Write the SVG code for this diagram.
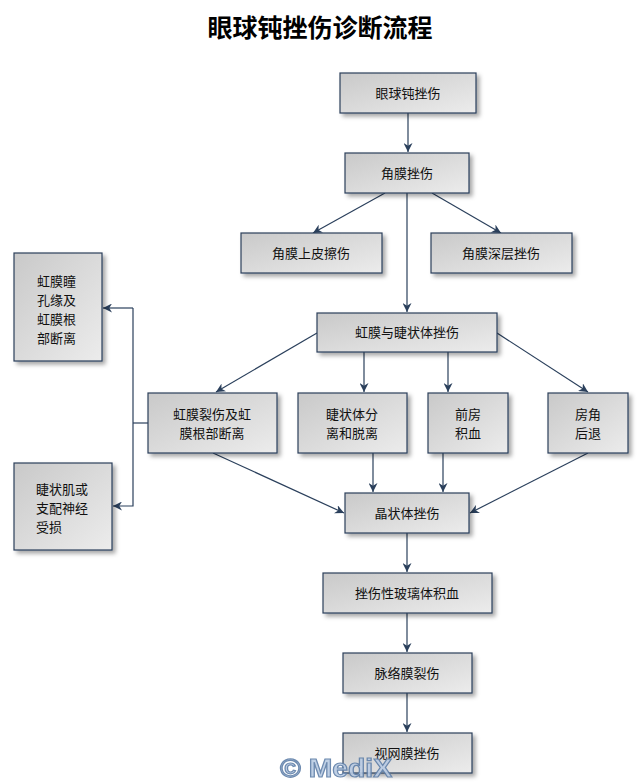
<svg xmlns="http://www.w3.org/2000/svg" width="642" height="782" viewBox="0 0 642 782">
<defs>
<linearGradient id="g" x1="0" y1="0" x2="1" y2="1">
<stop offset="0" stop-color="#c9c9c9"/>
<stop offset="1" stop-color="#ececec"/>
</linearGradient>
<filter id="sh" x="-10%" y="-10%" width="130%" height="140%">
<feDropShadow dx="3" dy="3" stdDeviation="2" flood-color="#000" flood-opacity="0.35"/>
</filter>
<marker id="ar" viewBox="0 0 10 10" refX="10" refY="5" markerWidth="9" markerHeight="9" markerUnits="userSpaceOnUse" orient="auto">
<path d="M0,0 L10,5 L0,10 L3,5 Z" fill="#2b405c"/>
</marker>
<style>
.b{fill:url(#g);stroke:#2b3f5a;stroke-width:1.2;filter:url(#sh)}
.t{font-family:"Noto Sans CJK SC","Liberation Sans",sans-serif;font-size:13px;fill:#111;text-anchor:middle}
.tl{font-family:"Noto Sans CJK SC","Liberation Sans",sans-serif;font-size:13px;fill:#111}
.c{fill:none;stroke:#2b405c;stroke-width:1.2}
.a{marker-end:url(#ar)}
</style>
</defs>
<rect width="642" height="782" fill="#fff"/>
<text x="320" y="37" font-family="'Noto Sans CJK SC',sans-serif" font-size="25" font-weight="bold" text-anchor="middle" fill="#000">眼球钝挫伤诊断流程</text>

<g id="connectors">
<path class="c a" d="M408,113 V152"/>
<path class="c a" d="M385,193 L313,233"/>
<path class="c a" d="M432,193 L501,233"/>
<path class="c a" d="M407,193 V312"/>
<path class="c a" d="M317,333 L216,392"/>
<path class="c a" d="M364,352 V392"/>
<path class="c a" d="M448,352 V392"/>
<path class="c a" d="M497,333 L588,392"/>
<path class="c" d="M148,423 H133"/>
<path class="c a" d="M133,308 V506 H113"/>
<path class="c a" d="M133,308 H103"/>
<path class="c a" d="M213,453 L344,513"/>
<path class="c a" d="M373,453 V492"/>
<path class="c a" d="M443,453 V492"/>
<path class="c a" d="M588,453 L470,513"/>
<path class="c a" d="M407,533 V572"/>
<path class="c a" d="M407,613 V652"/>
<path class="c a" d="M407,693 V732"/>
</g>

<g id="n1"><rect class="b" x="340" y="73" width="136" height="40"/><text class="t" x="408" y="98">眼球钝挫伤</text></g>
<g id="n2"><rect class="b" x="345" y="153" width="124" height="40"/><text class="t" x="407" y="178">角膜挫伤</text></g>
<g id="n3"><rect class="b" x="241" y="233" width="141" height="40"/><text class="t" x="311" y="258">角膜上皮擦伤</text></g>
<g id="n4"><rect class="b" x="431" y="233" width="141" height="40"/><text class="t" x="501" y="258">角膜深层挫伤</text></g>
<g id="n5"><rect class="b" x="317" y="313" width="180" height="39"/><text class="t" x="407" y="337">虹膜与睫状体挫伤</text></g>
<g id="n6"><rect class="b" x="148" y="393" width="129" height="60"/><text class="t" x="212" y="419">虹膜裂伤及虹</text><text class="t" x="212" y="438">膜根部断离</text></g>
<g id="n7"><rect class="b" x="298" y="393" width="109" height="60"/><text class="t" x="352" y="419">睫状体分</text><text class="t" x="352" y="438">离和脱离</text></g>
<g id="n8"><rect class="b" x="428" y="393" width="80" height="60"/><text class="t" x="468" y="419">前房</text><text class="t" x="468" y="438">积血</text></g>
<g id="n9"><rect class="b" x="548" y="393" width="80" height="60"/><text class="t" x="588" y="419">房角</text><text class="t" x="588" y="438">后退</text></g>
<g id="n10"><rect class="b" x="14" y="253" width="88" height="108"/><text class="tl" x="37" y="286">虹膜瞳</text><text class="tl" x="37" y="305">孔缘及</text><text class="tl" x="37" y="324">虹膜根</text><text class="tl" x="37" y="343">部断离</text></g>
<g id="n11"><rect class="b" x="14" y="463" width="98" height="87"/><text class="tl" x="36" y="494">睫状肌或</text><text class="tl" x="36" y="513">支配神经</text><text class="tl" x="36" y="532">受损</text></g>
<g id="n12"><rect class="b" x="345" y="493" width="124" height="40"/><text class="t" x="407" y="518">晶状体挫伤</text></g>
<g id="n13"><rect class="b" x="323" y="573" width="169" height="40"/><text class="t" x="407" y="598">挫伤性玻璃体积血</text></g>
<g id="n14"><rect class="b" x="343" y="653" width="129" height="40"/><text class="t" x="407" y="678">脉络膜裂伤</text></g>
<g id="n15"><rect class="b" x="343" y="733" width="129" height="40"/><text class="t" x="407" y="758">视网膜挫伤</text></g>

<text x="280" y="777" font-family="'Liberation Sans',sans-serif" font-size="26" font-weight="bold" fill="#b9cbe3" stroke="#5f7fa8" stroke-width="1.2" opacity="0.9" textLength="112" lengthAdjust="spacingAndGlyphs">© MediX</text>
</svg>
